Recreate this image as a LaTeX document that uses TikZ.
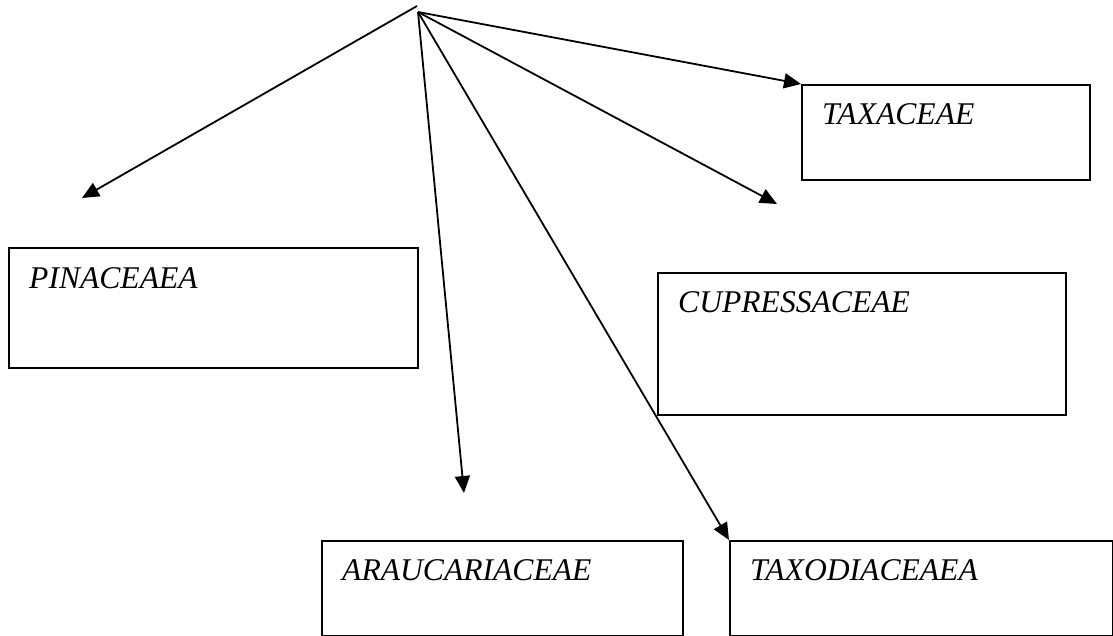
\documentclass[tikz,border=0pt]{standalone}
\usepackage{fontspec}
\setmainfont{Liberation Serif}
\usetikzlibrary{arrows.meta,calc}
\begin{document}
\begin{tikzpicture}[x=1pt,y=-1pt,
  famb/.style={draw=black,line width=2pt,rectangle,inner sep=0pt,anchor=north west},
  famt/.style={anchor=base west,inner sep=0pt,font=\fontsize{31.6}{37}\selectfont\itshape},
  link/.style={line width=1.8pt,-{Triangle[length=17pt,width=15pt]}}]
\useasboundingbox (0,0) rectangle (1113,636);
% origin points
\coordinate (o1) at (417,6);
\coordinate (o2) at (418,12);
% boxes
\node[famb,minimum width=288pt,minimum height=95pt] (taxb) at (801,84) {};
\node[famb,minimum width=409pt,minimum height=120pt] (pinb) at (8,247) {};
\node[famb,minimum width=408pt,minimum height=142pt] (cupb) at (657,272) {};
\node[famb,minimum width=361pt,minimum height=95pt] (arab) at (321,540) {};
\node[famb,minimum width=383pt,minimum height=95pt] (taxob) at (729,540) {};
% texts
\node[famt] (taxt) at ($(taxb.north west)+(21,41)$) {TAXACEAE};
\node[famt] (pint) at ($(pinb.north west)+(21,41)$) {PINACEAEA};
\node[famt] (cupt) at ($(cupb.north west)+(21,40)$) {CUPRESSACEAE};
\node[famt] (arat) at ($(arab.north west)+(21,40)$) {ARAUCARIACEAE};
\node[famt] (taxot) at ($(taxob.north west)+(21,40)$) {TAXODIACEAEA};
% arrow ends
\coordinate (pinend) at (82,198);
\coordinate (cupend) at (777,204);
\coordinate (araend) at (464,493);
% connectors
\draw[link] (o1) -- (pinend);
\draw[link] (o2) -- (taxb.north west);
\draw[link] (o2) -- (cupend);
\draw[link] (o2) -- (araend);
\draw[link] (o2) -- (taxob.north west);
\end{tikzpicture}
\end{document}
